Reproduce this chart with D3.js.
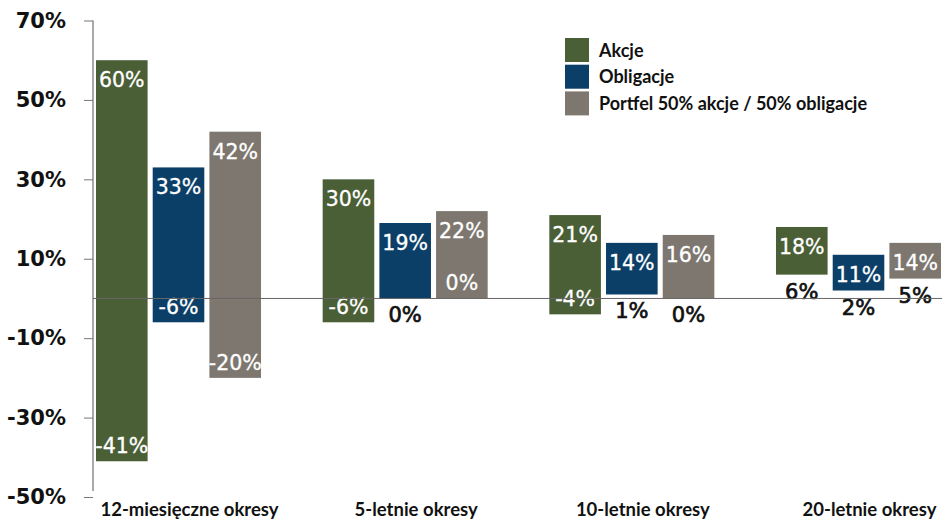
<!DOCTYPE html>
<html>
<head>
<meta charset="utf-8">
<script src="https://cdn.jsdelivr.net/npm/d3@7"></script>
<style>
  body { margin: 0; background: #fff; }
  svg { display: block; }
</style>
</head>
<body>
<div id="chart"></div>
<script>
const categories = ['12-miesięczne okresy', '5-letnie okresy', '10-letnie okresy', '20-letnie okresy'];
const series = ['Akcje', 'Obligacje', 'Portfel 50% akcje / 50% obligacje'];
const maxValues = {
  'Akcje': [60, 30, 21, 18],
  'Obligacje': [33, 19, 14, 11],
  'Portfel 50% akcje / 50% obligacje': [42, 22, 16, 14],
};
const minValues = {
  'Akcje': [-41, -6, -4, 6],
  'Obligacje': [-6, 0, 1, 2],
  'Portfel 50% akcje / 50% obligacje': [-20, 0, 0, 5],
};
// whether the lower label sits inside the bar (white) or below it (black)
const minInside = {
  'Akcje': [true, true, true, false],
  'Obligacje': [true, false, false, false],
  'Portfel 50% akcje / 50% obligacje': [true, true, false, false],
};
const yTicks = [-50, -30, -10, 10, 30, 50, 70];

const colors = ['#4b5f36', '#0b3f68', '#7e7770'];

const width = 942;
const height = 520;

const svg = d3.select('#chart')
  .append('svg')
  .attr('width', width)
  .attr('height', height);

const y = d3.scaleLinear([-50, 70], [497, 20.5]);
const x0 = d3.scaleBand(categories, [96, 941]).paddingInner(0.272).paddingOuter(0);
const x1 = d3.scaleBand(series, [0, x0.bandwidth()]).paddingInner(0.09).paddingOuter(0);
const color = d3.scaleOrdinal(series, colors);

// y axis
const yAxis = svg.append('g')
  .attr('transform', 'translate(93,0)')
  .call(d3.axisLeft(y).tickValues(yTicks).tickFormat((d) => `${d}%`).tickSize(9).tickPadding(18));
yAxis.select('.domain').attr('stroke', '#555').attr('d', `M0,${y(70)}V${y(-48.5)}`);
yAxis.selectAll('.tick line').attr('stroke', '#777');
yAxis.selectAll('.tick text')
  .attr('fill', '#111')
  .attr('font-family', 'DejaVu Sans')
  .attr('font-weight', 'bold')
  .attr('font-size', 21);

const rows = [];
categories.forEach((c, i) => {
  series.forEach((s) => {
    rows.push({
      cat: c, s, max: maxValues[s][i], min: minValues[s][i], inside: minInside[s][i],
    });
  });
});

const groups = svg.append('g')
  .selectAll('g')
  .data(rows)
  .join('g')
  .attr('transform', (d) => `translate(${x0(d.cat) + x1(d.s)},0)`);

groups.append('rect')
  .attr('x', 0)
  .attr('width', x1.bandwidth())
  .attr('y', (d) => y(d.max))
  .attr('height', (d) => y(d.min) - y(d.max))
  .attr('fill', (d) => color(d.s));

// zero line
svg.append('line')
  .attr('x1', 93)
  .attr('x2', width)
  .attr('y1', y(0))
  .attr('y2', y(0))
  .attr('stroke', '#666')
  .attr('stroke-width', 1);

const labelFont = (sel) => sel
  .attr('font-family', 'DejaVu Sans')
  .attr('font-size', 20.5)
  .attr('text-anchor', 'middle')
  .attr('x', x1.bandwidth() / 2);

groups.append('text')
  .call(labelFont)
  .attr('y', (d) => y(d.max) + 27)
  .attr('fill', '#fff')
  .attr('stroke', '#fff')
  .attr('stroke-width', 0.3)
  .text((d) => `${d.max}%`);

groups.append('text')
  .call(labelFont)
  .attr('font-size', (d) => (d.inside ? 20.5 : 21))
  .attr('y', (d) => (d.inside ? y(d.min) - 8 : y(d.min) + 24))
  .attr('fill', (d) => (d.inside ? '#fff' : '#111'))
  .attr('stroke', (d) => (d.inside ? '#fff' : '#111'))
  .attr('stroke-width', (d) => (d.inside ? 0.3 : 0.7))
  .text((d) => `${d.min}%`);

// category labels
svg.append('g')
  .selectAll('text')
  .data(categories)
  .join('text')
  .attr('x', (d) => x0(d) + x0.bandwidth() / 2 + 11)
  .attr('y', 516)
  .attr('text-anchor', 'middle')
  .attr('font-family', 'Lato')
  .attr('font-weight', 'bold')
  .attr('font-size', 18.5)
  .attr('fill', '#111')
  .text((d) => d);

// legend
const legend = svg.append('g')
  .attr('transform', 'translate(565,38)')
  .selectAll('g')
  .data(series)
  .join('g')
  .attr('transform', (d, i) => `translate(0,${i * 26.7})`);

legend.append('rect')
  .attr('width', 24)
  .attr('height', 24)
  .attr('fill', (d) => color(d));

legend.append('text')
  .attr('x', 34)
  .attr('y', 18.5)
  .attr('font-family', 'Lato')
  .attr('font-weight', 'bold')
  .attr('font-size', 18)
  .attr('fill', '#111')
  .text((d) => d);
</script>
</body>
</html>
